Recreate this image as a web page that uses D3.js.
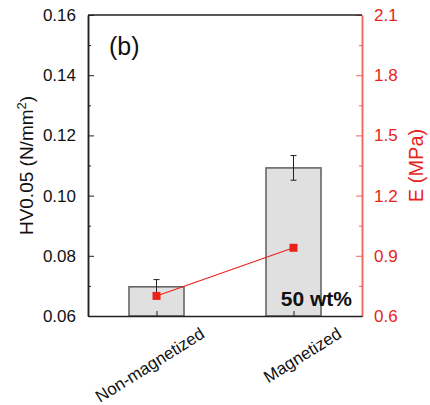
<!DOCTYPE html>
<html>
<head>
<meta charset="utf-8">
<script src="https://cdn.jsdelivr.net/npm/d3@7"></script>
<style>
body{margin:0;background:#fff}
text{font-family:"Liberation Sans",Arial,sans-serif}
</style>
</head>
<body>
<script>
var categories=["Non-magnetized","Magnetized"]
var hardness=[0.0697,0.1092]
var hardnessErr=[0.0024,0.0041]
var modulus=[0.70,0.94]
var leftTicks=[0.06,0.08,0.10,0.12,0.14,0.16]
var rightTicks=[0.6,0.9,1.2,1.5,1.8,2.1]

var screen={width:430,height:405}
var margins={top:15,right:68,bottom:89,left:88}
var width=screen.width-margins.left-margins.right
var height=screen.height-margins.top-margins.bottom
var red="#e8231a"
var redAxis="#f0665c"

var svg=d3.select("body").append("svg")
          .attr("width",screen.width)
          .attr("height",screen.height)
var g=svg.append("g")
         .attr("transform","translate("+margins.left+","+margins.top+")")

var xScale=d3.scalePoint().domain(categories).range([0,width]).padding(0.5)
var yScale=d3.scaleLinear().domain([0.06,0.16]).range([height,0])
var y2Scale=d3.scaleLinear().domain([0.6,2.1]).range([height,0])
var barW=55

//bars
g.selectAll(".bar").data(categories).enter().append("rect")
 .attr("x",function(d){return xScale(d)-barW/2})
 .attr("y",function(d,i){return yScale(hardness[i])})
 .attr("width",barW)
 .attr("height",function(d,i){return height-yScale(hardness[i])})
 .attr("fill","#e0e0e0")
 .attr("stroke","#666")
 .attr("stroke-width",1.6)

//error bars
var err=g.selectAll(".err").data(categories).enter().append("g")
err.append("line")
   .attr("x1",function(d){return xScale(d)}).attr("x2",function(d){return xScale(d)})
   .attr("y1",function(d,i){return yScale(hardness[i]+hardnessErr[i])})
   .attr("y2",function(d,i){return yScale(hardness[i]-hardnessErr[i])})
   .attr("stroke","#222").attr("stroke-width",1)
;[1,-1].forEach(function(s){
  err.append("line")
     .attr("x1",function(d){return xScale(d)-3}).attr("x2",function(d){return xScale(d)+3})
     .attr("y1",function(d,i){return yScale(hardness[i]+s*hardnessErr[i])})
     .attr("y2",function(d,i){return yScale(hardness[i]+s*hardnessErr[i])})
     .attr("stroke","#222").attr("stroke-width",1)
})

//axes
var yAxis=d3.axisLeft(yScale).tickValues(leftTicks).tickFormat(d3.format(".2f")).tickSizeInner(-6).tickSizeOuter(0).tickPadding(12)
var yMinor=d3.axisLeft(yScale).tickValues(d3.range(0.07,0.16,0.02)).tickFormat("").tickSizeInner(-3).tickSizeOuter(0)
var y2Axis=d3.axisRight(y2Scale).tickValues(rightTicks).tickFormat(d3.format(".1f")).tickSizeInner(-6).tickSizeOuter(0).tickPadding(12)
var y2Minor=d3.axisRight(y2Scale).tickValues(d3.range(0.75,2.1,0.3)).tickFormat("").tickSizeInner(-3).tickSizeOuter(0)
var xAxis=d3.axisBottom(xScale).tickSizeInner(-5).tickSizeOuter(0).tickFormat("")

g.append("g").attr("class","ya").call(yMinor)
g.append("g").attr("class","ya").call(yAxis)
g.append("g").attr("class","y2a").attr("transform","translate("+width+",0)").call(y2Minor)
g.append("g").attr("class","y2a").attr("transform","translate("+width+",0)").call(y2Axis)
g.append("g").attr("class","xa").attr("transform","translate(0,"+height+")").call(xAxis)
g.append("line").attr("x1",0).attr("x2",width).attr("y1",0).attr("y2",0).attr("stroke","#222").attr("stroke-width",1.5)

g.selectAll(".domain").attr("stroke-width",1.5)
g.selectAll(".tick line").attr("stroke-width",1)
g.selectAll(".ya text").attr("font-size",17).attr("font-family","Liberation Sans, Arial, sans-serif").attr("fill","#111")
g.selectAll(".y2a text").attr("font-size",17).attr("font-family","Liberation Sans, Arial, sans-serif").attr("fill",red)
g.selectAll(".ya .domain, .ya line, .xa .domain, .xa line").attr("stroke","#222")
g.selectAll(".y2a .domain, .y2a line").attr("stroke",redAxis)

//category labels
g.selectAll(".cat").data(categories).enter().append("text")
 .attr("transform",function(d){return "translate("+(xScale(d)+47)+","+(height+17)+") rotate(-32)"})
 .attr("text-anchor","end")
 .attr("dominant-baseline","middle")
 .attr("font-size",17)
 .attr("fill","#111")
 .text(function(d){return d})

//modulus line and points
var line=d3.line().x(function(d,i){return xScale(categories[i])}).y(function(d){return y2Scale(d)})
g.append("path").datum(modulus).attr("d",line).attr("fill","none").attr("stroke",red).attr("stroke-width",1.1)
g.selectAll(".pt").data(modulus).enter().append("rect")
 .attr("x",function(d,i){return xScale(categories[i])-4})
 .attr("y",function(d){return y2Scale(d)-4})
 .attr("width",8).attr("height",8)
 .attr("fill",red)

//labels
svg.append("text")
   .attr("transform","translate(33,"+(margins.top+height/2)+") rotate(-90)")
   .attr("text-anchor","middle")
   .attr("font-size",19)
   .attr("fill","#111")
   .html('HV0.05 (N/mm<tspan dy="-7" font-size="13">2</tspan><tspan dy="7">)</tspan>')
svg.append("text")
   .attr("transform","translate(423,"+(margins.top+height/2)+") rotate(-90)")
   .attr("text-anchor","middle")
   .attr("font-size",20)
   .attr("fill",red)
   .text("E (MPa)")
svg.append("text")
   .attr("x",109).attr("y",55)
   .attr("font-family","Open Sans, sans-serif")
   .attr("font-size",25)
   .attr("fill","#111")
   .text("(b)")
svg.append("text")
   .attr("x",352).attr("y",306)
   .attr("text-anchor","end")
   .attr("font-family","Open Sans, sans-serif")
   .attr("font-weight","bold")
   .attr("font-size",21)
   .attr("fill","#111")
   .text("50 wt%")
</script>
</body>
</html>
